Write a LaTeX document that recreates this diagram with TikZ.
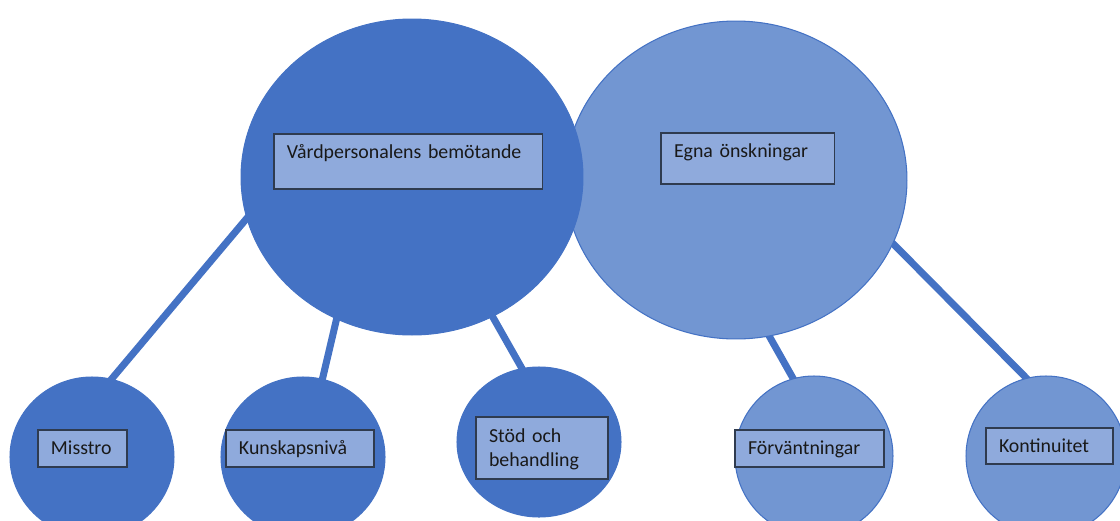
\documentclass[tikz,border=0pt]{standalone}
\usepackage{fontspec}
\setmainfont{Carlito}
\usepackage{xcolor}
\usepackage{tikz}
\usetikzlibrary{shapes.geometric,backgrounds}
\definecolor{darkblob}{HTML}{4472C4}
\definecolor{lightblob}{HTML}{7296D2}
\definecolor{tagfill}{HTML}{8FAADC}
\definecolor{tagline}{HTML}{2F3B4F}

\begin{document}
\begin{tikzpicture}[x=0.02cm, y=-0.02cm, every node/.style={outer sep=0pt},
		blob/.style={ellipse, inner sep=0pt, draw=darkblob, line width=0.6pt},
		dark/.style={blob, fill=darkblob},
		light/.style={blob, fill=lightblob},
		tag/.style={draw=tagline, fill=tagfill, line width=0.6pt, anchor=north west,
			inner xsep=0.26cm, inner ysep=0pt, text height=0.5cm, align=left,
			font=\fontsize{11.3}{14.2}\selectfont, text=black!90},
		link/.style={draw=darkblob, line width=4pt, shorten <=-3pt, shorten >=-3pt}]
		
		\useasboundingbox (0,0) rectangle (1120,521);
		
		% the two main themes
		\node[light, minimum width=6.84cm, minimum height=6.36cm] (eo) at (736,180) {};
		\node[dark, minimum width=6.84cm, minimum height=6.32cm] (vb) at (412,177) {};
		
		% sub themes
		\node[dark, minimum width=3.28cm, minimum height=3.2cm] (ms) at (92,457) {};
		\node[dark, minimum width=3.28cm, minimum height=3.2cm] (kn) at (303,457) {};
		\node[dark, minimum width=3.28cm, minimum height=3cm] (sb) at (539,442) {};
		\node[light, minimum width=3.16cm, minimum height=3.2cm] (fv) at (814,456) {};
		\node[light, minimum width=3.2cm, minimum height=3.2cm] (kt) at (1046,456) {};
		
		\node[tag, text width=4.86cm, text depth=0.6cm] (vbt) at (274,134) {Vårdpersonalens bemötande};
		\node[tag, text width=2.96cm, text depth=0.52cm] (eot) at (661,133) {Egna önskningar};
		\node[tag, text width=1.26cm, text depth=0.24cm] (mst) at (38,430) {Misstro};
		\node[tag, text width=2.44cm, text depth=0.24cm] (knt) at (226,430) {Kunskapsnivå};
		\node[tag, text width=2.12cm, text depth=0.74cm] (sbt) at (476,417) {Stöd och\\behandling};
		\node[tag, text width=2.46cm, text depth=0.24cm] (fvt) at (735,430) {Förväntningar};
		\node[tag, text width=2.02cm, text depth=0.22cm] (ktt) at (986,428) {Kontinuitet};
		
		\begin{scope}[on background layer]
			\path[link]
			(vb.194) edge (ms.76)
			(vb.242) edge (kn.76)
			(vb.300) edge (sb.103)
			(eo.282) edge (fv.105)
			(eo.338) edge (kt.104)
			;
		\end{scope}
	\end{tikzpicture}
\end{document}
